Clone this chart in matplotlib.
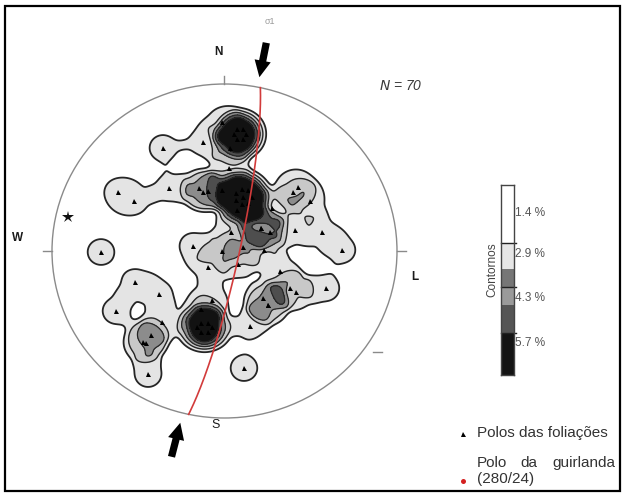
import numpy as np
import matplotlib
matplotlib.use("Agg")
import matplotlib.pyplot as plt
from matplotlib.patches import Ellipse, Rectangle

plt.rcParams['font.family'] = ['Liberation Sans', 'DejaVu Sans']

# Poles to foliation planes, equal-area lower-hemisphere coordinates
# (primitive circle of radius 1)
pole_x = [-0.357, -0.125, -0.014, 0.032, 0.026, -0.617, -0.525, -0.322, -0.148, -0.125,
          -0.096, -0.014, 0.275, 0.397, 0.426, 0.496, 0.072, 0.212, 0.264, 0.409,
          0.565, 0.038, -0.183, -0.014, 0.107, 0.229, 0.681, -0.096, 0.078, 0.322,
          -0.519, -0.380, -0.629, 0.380, 0.414, 0.588, 0.223, 0.252, 0.148, -0.136,
          -0.362, -0.426, -0.472, -0.455, -0.443, 0.113, -0.072, -0.716,
          0.125, 0.107, 0.072, 0.055, 0.072, 0.107,
          0.157, 0.139, 0.100, 0.068, 0.068, 0.100, 0.139, 0.110,
          -0.070, -0.093, -0.139, -0.162, -0.139, -0.093,
          0.212, 0.252]
pole_y = [0.617, 0.653, 0.772, 0.617, 0.497, 0.353, 0.299, 0.377, 0.377, 0.353,
          0.359, 0.365, 0.257, 0.353, 0.383, 0.299, 0.246, 0.138, 0.114, 0.126,
          0.114, 0.114, 0.030, 0.000, 0.024, 0.006, 0.006, -0.096, -0.078, -0.120,
          -0.186, -0.257, -0.359, -0.222, -0.246, -0.222, -0.281, -0.323, -0.449, -0.347,
          -0.425, -0.503, -0.545, -0.551, -0.737, -0.701, -0.293, -0.006,
          0.701, 0.669, 0.669, 0.701, 0.732, 0.732,
          0.326, 0.289, 0.280, 0.305, 0.347, 0.373, 0.364, 0.326,
          -0.458, -0.484, -0.484, -0.458, -0.432, -0.432,
          0.138, -0.323]

# Contour levels (% of poles per 1 % area) and their labels
contour_levels = [1.4, 2.9, 4.3, 5.7, 7.1]
level_labels = ['1.4 %', '2.9 %', '4.3 %', '5.7 %']

# Plane traced in red (strike / dip, right-hand rule)
plane_strike = 12
plane_dip = 83
# Directions of sigma 1 shown by the arrows (azimuths, degrees)
sigma1_azimuths = [11, 194]
# Additional structural element marked with a star
star_x, star_y = -0.907, 0.204

W, H = 626, 493
fig = plt.figure(figsize=(W / 100, H / 100), dpi=100)
fig.patch.set_facecolor('white')

# Primitive-circle geometry on the canvas (pixels)
cx, cy, rx, ry = 224.5, 251.0, 172.5, 167.0
ax = fig.add_axes([0, 0, 1, 1])
ax.set_xlim(-cx / rx, (W - cx) / rx)
ax.set_ylim((cy - H) / ry, cy / ry)
ax.axis('off')


def fx(px):
    return px / W


def fy(py):
    return 1 - py / H


# Counting-circle density with a softened edge
count_radius = 0.120
edge_width = 0.0123
count_peak = 1.01
g = np.linspace(-1.02, 1.02, 521)
GX, GY = np.meshgrid(g, g)
acc = np.zeros_like(GX)
for px, py in zip(pole_x, pole_y):
    d = np.hypot(GX - px, GY - py)
    acc += count_peak / (1.0 + np.exp((d - count_radius) / edge_width))
density = 100.0 / len(pole_x) * acc

prim = Ellipse((0, 0), 2, 2, transform=ax.transData, facecolor='none',
               edgecolor='#8a8a8a', lw=1.0, zorder=5)
ax.add_patch(prim)
clip = Ellipse((0, 0), 2, 2, transform=ax.transData, facecolor='none', edgecolor='none')
ax.add_patch(clip)

fill_colors = ['#e4e4e4', '#c8c8c8', '#8c8c8c', '#4e4e4e', '#121212']
cf = ax.contourf(GX, GY, density, levels=contour_levels + [density.max() + 1],
                 colors=fill_colors, zorder=1)
cf.set_clip_path(clip)
cl = ax.contour(GX, GY, density, levels=contour_levels, colors='#262626',
                linewidths=[1.3, 1.0, 0.9, 0.9, 0.9], zorder=2)
cl.set_clip_path(clip)

# Poles
ax.plot(pole_x, pole_y, linestyle='none', marker='^', ms=3.6, color='black',
        mew=0, zorder=4)

# Star
ax.plot([star_x], [star_y], linestyle='none', marker='*', ms=9, color='#111111',
        mew=0, zorder=4)


# Great-circle trace of the plane
def plane_trace(strike, dip, n=241):
    s = np.radians(strike)
    d = np.radians(dip)
    t = np.linspace(0, np.pi, n)
    strike_vec = np.array([np.sin(s), np.cos(s), 0.0])
    da = s + np.pi / 2
    dip_vec = np.array([np.cos(d) * np.sin(da), np.cos(d) * np.cos(da), np.sin(d)])
    v = np.outer(np.cos(t), strike_vec) + np.outer(np.sin(t), dip_vec)
    e, n_, down = v.T
    plunge = np.arcsin(np.clip(down, -1, 1))
    trend = np.arctan2(e, n_)
    r = np.sqrt(2) * np.sin((np.pi / 2 - plunge) / 2)
    return r * np.sin(trend), r * np.cos(trend)


tx, ty = plane_trace(plane_strike, plane_dip)
ax.plot(tx, ty, color='#d23b3b', lw=1.2, zorder=6)

# Sigma 1 arrows pointing towards the net
for az in sigma1_azimuths:
    a = np.radians(az)
    r0, r1 = 1.27, 1.06
    x0, y0 = r0 * np.sin(a), r0 * np.cos(a)
    x1, y1 = r1 * np.sin(a), r1 * np.cos(a)
    ax.arrow(x0, y0, x1 - x0, y1 - y0, width=0.042, head_width=0.095,
             head_length=0.10, length_includes_head=True, color='black',
             lw=0, zorder=7)

# Cardinal ticks
tick_kw = dict(color='#8a8a8a', lw=1.0, zorder=5)
ax.plot([0, 0], [1.0, 1.05], **tick_kw)
ax.plot([-1.05, -1.0], [0, 0], **tick_kw)
ax.plot([1.0, 1.05], [0, 0], **tick_kw)
ax.plot([0.861, 0.913], [-0.605, -0.605], **tick_kw)

# Labels around the net
lab_kw = dict(ha='center', va='center', color='#1a1a1a')
fig.text(fx(218), fy(52), 'N', fontsize=8.5, fontweight='bold', **lab_kw)
fig.text(fx(18), fy(238), 'W', fontsize=8.5, fontweight='bold', **lab_kw)
fig.text(fx(415), fy(277), 'L', fontsize=8.5, fontweight='bold', **lab_kw)
fig.text(fx(216), fy(425), 'S', fontsize=9, **lab_kw)
fig.text(fx(270), fy(21), 'σ1', fontsize=6.5, ha='center', va='center', color='#9a9a9a')
fig.text(fx(401), fy(86), '$N$ = 70', fontsize=10, style='italic', ha='center',
         va='center', color='#3a3a3a')

# Colour scale
cax = fig.add_axes([fx(500.7), fy(375), (514.3 - 500.7) / W, (375 - 185) / H])
cax.set_xlim(0, 1)
cax.set_ylim(1, 0)
band_edges = [0, 0.305, 0.442, 0.537, 0.632, 0.779, 1.0]
band_colors = ['#ffffff', '#e6e6e6', '#767676', '#9a9a9a', '#555555', '#141414']
for i, c in enumerate(band_colors):
    cax.add_patch(Rectangle((0, band_edges[i]), 1, band_edges[i + 1] - band_edges[i],
                            facecolor=c, edgecolor='none'))
for yb in (band_edges[1], band_edges[3], band_edges[5]):
    cax.plot([0, 1.1], [yb, yb], color='#222222', lw=1.0, clip_on=False)
cax.set_xticks([])
cax.set_yticks([])
for sp in cax.spines.values():
    sp.set_color('#444444')
    sp.set_linewidth(1.0)

for lab, py in zip(level_labels, [213, 254, 298, 343]):
    fig.text(fx(515), fy(py), lab, fontsize=8.5, ha='left', va='center', color='#555555')
fig.text(fx(492), fy(270), 'Contornos', fontsize=8.5, rotation=90, ha='center',
         va='center', color='#444444')

# Legend
leg_kw = dict(fontsize=11, va='center', color='#333333')
ax.plot([fx(463)], [fy(434)], transform=fig.transFigure, marker='^', ms=3.6,
        color='black', mew=0, clip_on=False)
fig.text(fx(477), fy(433), 'Polos das foliações', ha='left', **leg_kw)
fig.text(fx(477), fy(463), 'Polo', ha='left', **leg_kw)
fig.text(fx(529), fy(463), 'da', ha='center', **leg_kw)
fig.text(fx(615), fy(463), 'guirlanda', ha='right', **leg_kw)
fig.text(fx(477), fy(479), '(280/24)', ha='left', **leg_kw)
ax.plot([fx(463)], [fy(481)], transform=fig.transFigure, marker='o', ms=3.6,
        color='#d42020', mew=0, clip_on=False)

# Frame
fig.add_artist(Rectangle((fx(5), fy(491)), (620 - 5) / W, (491 - 6) / H,
                         transform=fig.transFigure, fill=False,
                         edgecolor='black', lw=1.6))

fig.savefig('out.png', dpi=100)
